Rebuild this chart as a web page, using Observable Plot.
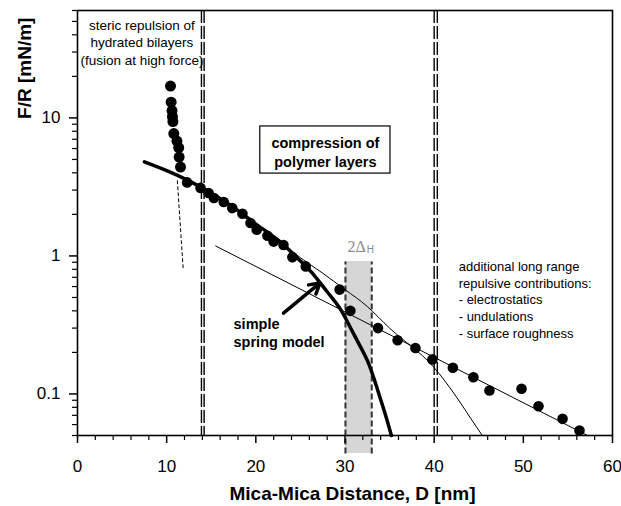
<!DOCTYPE html>
<html>
<head>
<meta charset="utf-8">
<script src="https://cdn.jsdelivr.net/npm/d3@7"></script>
<script src="https://cdn.jsdelivr.net/npm/@observablehq/plot@0.6"></script>
<style>
  html, body { margin: 0; padding: 0; background: #fff; }
  #chart { width: 621px; height: 506px; }
</style>
</head>
<body>
<div id="chart"></div>
<script>
// ---- Data ----
// steep cluster: steric repulsion of hydrated bilayers
const steepD = [10.43, 10.5, 10.6, 10.65, 10.7, 10.8, 11.15, 11.35, 11.4, 11.55];
const steepF = [17.0, 13.0, 11.3, 10.2, 9.4, 7.7, 6.8, 6.1, 5.2, 4.4];

// main force profile
const mainD = [12.3, 13.8, 14.7, 15.3, 16.4, 17.35, 18.5, 19.4, 20.1, 21.3, 22.0, 23.1, 24.1, 25.6,
               29.4, 30.6, 33.7, 35.9, 37.9, 39.8, 42.1, 44.4, 46.2, 49.8, 51.7, 54.4, 56.3];
const mainF = [3.41, 3.11, 2.86, 2.63, 2.46, 2.22, 2.02, 1.73, 1.55, 1.40, 1.27, 1.20, 0.98, 0.84,
               0.57, 0.40, 0.30, 0.245, 0.215, 0.178, 0.155, 0.132, 0.106, 0.109, 0.0815, 0.066, 0.0543];

// simple spring model (thick curve)
const springD = [7.5, 10, 12.5, 15, 17.5, 20, 22.5, 25, 26.5, 28, 29.5, 31, 32.5, 33.5, 34.5, 35.2];
const springF = [4.8, 4.15, 3.5, 2.85, 2.25, 1.7, 1.3, 0.92, 0.73, 0.55, 0.41, 0.27, 0.175, 0.115, 0.072, 0.05];

// long-range exponential (thin straight line)
const longD = [15.5, 57.2];
const longF = [1.18, 0.05];

// alternative polymer fit (thin curved line)
const polyD = [20, 22.5, 25, 27.5, 30, 32.5, 35, 37.5, 40, 42.5, 44, 45.4];
const polyF = [1.72, 1.3, 0.97, 0.75, 0.57, 0.43, 0.30, 0.22, 0.155, 0.095, 0.068, 0.05];

// steric fit (thin dashed)
const stericD = [11.2, 11.85];
const stericF = [3.5, 0.81];

// vertical double dashed walls
const wallD = [13.9, 14.2, 40.0, 40.35];

// 2ΔH band (extends slightly below the axis)
const bandX = [30.05, 33.0];
const bandF = [0.037, 0.91];

// compression box
const boxX = [20.5, 35.1];
const boxF = [3.95, 8.67];

// arrow (simple spring model)
const arrowD = [23.1, 27.2];
const arrowF = [0.385, 0.637];

// ticks
const xMajor = [0, 10, 20, 30, 40, 50, 60];
const xMinor = [2, 4, 6, 8, 12, 14, 16, 18, 22, 24, 26, 28, 32, 34, 36, 38, 42, 44, 46, 48, 52, 54, 56, 58];
const yMajor = [0.1, 1, 10];
const yMinor = [0.05, 0.06, 0.07, 0.08, 0.09, 0.2, 0.3, 0.4, 0.5, 0.6, 0.7, 0.8, 0.9,
                2, 3, 4, 5, 6, 7, 8, 9, 20, 30, 40, 50, 60];

// annotations
const noteSteric = {x: 7.23, y: 35.6, text: "steric repulsion of\nhydrated bilayers\n(fusion at high force)"};
const noteCompression = {x: 27.8, y: 5.7, text: "compression of\npolymer layers"};
const noteLong = {x: 42.75, y: 0.487, text: "additional long range\nrepulsive contributions:\n- electrostatics\n- undulations\n- surface roughness"};
const noteSpring = {x: 17.5, y: 0.28, text: "simple\nspring model"};
const noteDelta = {x: 31.3, y: 1.16, text: "2Δ", subX: 32.85, subY: 1.1, sub: "H"};

const xLabel = {x: 30.84, y: 0.0189, text: "Mica-Mica Distance, D [nm]"};
const yLabel = {x: -5.94, y: 22.9, text: "F/R [mN/m]"};

// ---- Build tables ----
const steep = steepD.map((d, i) => ({d, f: steepF[i]}));
const main = mainD.map((d, i) => ({d, f: mainF[i]}));
const spring = springD.map((d, i) => ({d, f: springF[i]}));
const longLine = longD.map((d, i) => ({d, f: longF[i]}));
const polyLine = polyD.map((d, i) => ({d, f: polyF[i]}));
const stericLine = stericD.map((d, i) => ({d, f: stericF[i]}));
const bandArea = bandX.map(x => ({x, y1: bandF[0], y2: bandF[1]}));
const boxRect = [{x1: boxX[0], x2: boxX[1], y1: boxF[0], y2: boxF[1]}];
const arrowRow = [{x1: arrowD[0], x2: arrowD[1], y1: arrowF[0], y2: arrowF[1]}];

const font = "'Liberation Sans', Arial, Helvetica, sans-serif";

const chart = Plot.plot({
  width: 621,
  height: 506,
  marginLeft: 77,
  marginRight: 9,
  marginTop: 10,
  marginBottom: 71,
  style: {fontFamily: font, fontSize: "17px", background: "#fff", color: "#000", overflow: "visible"},
  x: {domain: [0, 60]},
  y: {type: "log", domain: [0.05, 60]},
  marks: [
    // band 2ΔH
    Plot.areaY(bandArea, {x: "x", y1: "y1", y2: "y2", fill: "#d6d6d6"}),
    Plot.link(bandArea, {x1: "x", x2: "x", y1: "y1", y2: "y2", stroke: "#333", strokeWidth: 2, strokeDasharray: "6,3"}),
    // vertical walls
    Plot.ruleX(wallD, {x: d => d, stroke: "#000", strokeWidth: 1.4, strokeDasharray: "13,3"}),
    // compression box
    Plot.rect(boxRect, {x1: "x1", x2: "x2", y1: "y1", y2: "y2", fill: "#fff", stroke: "#000", strokeWidth: 1.2}),
    Plot.text([noteCompression], {x: "x", y: "y", text: "text", fontWeight: "bold", fontSize: 14.5, lineHeight: 1.3, textAnchor: "middle"}),
    // fit lines
    Plot.line(longLine, {x: "d", y: "f", stroke: "#000", strokeWidth: 1}),
    Plot.line(polyLine, {x: "d", y: "f", stroke: "#000", strokeWidth: 1, curve: "natural"}),
    Plot.line(stericLine, {x: "d", y: "f", stroke: "#000", strokeWidth: 1, strokeDasharray: "3,3"}),
    Plot.line(spring, {x: "d", y: "f", stroke: "#000", strokeWidth: 3.5, curve: "natural"}),
    // data points
    Plot.dot(steep, {x: "d", y: "f", r: 5.5, fill: "#000"}),
    Plot.dot(main, {x: "d", y: "f", r: 5.3, fill: "#000"}),
    // arrow
    Plot.arrow(arrowRow, {x1: "x1", y1: "y1", x2: "x2", y2: "y2", stroke: "#000", strokeWidth: 3.5, headLength: 5}),
    // annotations
    Plot.text([noteSteric], {x: "x", y: "y", text: "text", fontSize: 13.5, lineHeight: 1.3, textAnchor: "middle"}),
    Plot.text([noteLong], {x: "x", y: "y", text: "text", fontSize: 13, lineHeight: 1.3, textAnchor: "start"}),
    Plot.text([noteSpring], {x: "x", y: "y", text: "text", fontSize: 14.5, fontWeight: "bold", lineHeight: 1.25, textAnchor: "start"}),
    Plot.text([noteDelta], {x: "x", y: "y", text: "text", fontSize: 16, fill: "#888", fontFamily: "'Liberation Serif', 'DejaVu Serif', serif"}),
    Plot.text([noteDelta], {x: "subX", y: "subY", text: "sub", fontSize: 10, fill: "#888", fontFamily: "'Liberation Sans', Arial, sans-serif"}),
    // axes
    Plot.axisX(xMajor, {tickSize: 8, tickPadding: 16, strokeWidth: 1.5, fontSize: 17, label: null, tickFormat: d => String(d)}),
    Plot.axisX(xMinor, {tickSize: 5, strokeWidth: 1.2, label: null, tickFormat: () => ""}),
    Plot.axisY(yMajor, {tickSize: 8, tickPadding: 9, strokeWidth: 1.5, fontSize: 17, label: null, tickFormat: d => String(d)}),
    Plot.axisY(yMinor, {tickSize: 5, strokeWidth: 1.2, label: null, tickFormat: () => ""}),
    Plot.frame({stroke: "#000", strokeWidth: 1.6}),
    Plot.text([xLabel], {x: "x", y: "y", text: "text", fontWeight: "bold", fontSize: 19}),
    Plot.text([yLabel], {x: "x", y: "y", text: "text", rotate: -90, fontWeight: "bold", fontSize: 19})
  ]
});
document.getElementById("chart").appendChild(chart);
</script>
</body>
</html>
